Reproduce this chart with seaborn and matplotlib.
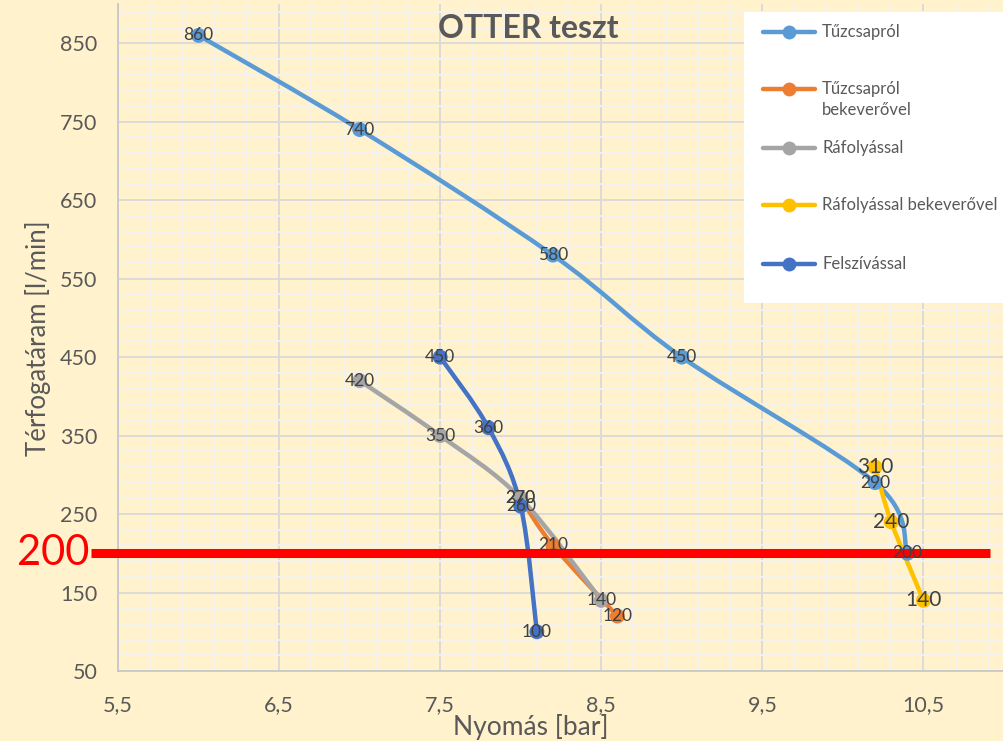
import matplotlib

matplotlib.use("Agg")
import matplotlib.pyplot as plt  # noqa: E402
import numpy as np  # noqa: E402
import pandas as pd  # noqa: E402
import seaborn as sns  # noqa: E402
from matplotlib.lines import Line2D  # noqa: E402
from matplotlib.patches import PathPatch, Rectangle  # noqa: E402
from matplotlib.path import Path  # noqa: E402
from matplotlib.ticker import FixedLocator, FuncFormatter  # noqa: E402

# ---- data ----
SERIES = [
    "Tűzcsapról",
    "Tűzcsapról bekeverővel",
    "Ráfolyással",
    "Ráfolyással bekeverővel",
    "Felszívással",
]
LEGEND_LABELS = [
    "Tűzcsapról",
    "Tűzcsapról\nbekeverővel",
    "Ráfolyással",
    "Ráfolyással bekeverővel",
    "Felszívással",
]
tuzcsap_x = [6.0, 7.0, 8.2, 9.0, 10.2, 10.4]
tuzcsap_y = [860, 740, 580, 450, 290, 200]
tuzcsap_bek_x = [8.0, 8.2, 8.6]
tuzcsap_bek_y = [270, 210, 120]
rafoly_x = [7.0, 7.5, 8.0, 8.5]
rafoly_y = [420, 350, 270, 140]
rafoly_bek_x = [10.2, 10.3, 10.5]
rafoly_bek_y = [310, 240, 140]
felsziv_x = [7.5, 7.8, 8.0, 8.1]
felsziv_y = [450, 360, 260, 100]
LIMIT = 200

X_TICKS = [5.5, 6.5, 7.5, 8.5, 9.5, 10.5]
Y_TICKS = [50, 150, 250, 350, 450, 550, 650, 750, 850]

COLORS = ["#5B9BD5", "#ED7D31", "#A5A5A5", "#FFC000", "#4472C4"]
BG = "#FFF2CC"
TXT = "#595959"
W, H = 1004, 741

xs_all = [tuzcsap_x, tuzcsap_bek_x, rafoly_x, rafoly_bek_x, felsziv_x]
ys_all = [tuzcsap_y, tuzcsap_bek_y, rafoly_y, rafoly_bek_y, felsziv_y]

df = pd.concat(
    [pd.DataFrame({"series": s, "p": x, "q": y}) for s, x, y in zip(SERIES, xs_all, ys_all)],
    ignore_index=True,
)


def smooth_path(xs, ys):
    """Catmull-Rom style Bezier through the points (like Excel's smoothed line)."""
    pts = np.column_stack([xs, ys]).astype(float)
    n = len(pts)
    verts, codes = [pts[0]], [Path.MOVETO]
    for i in range(n - 1):
        p0 = pts[i - 1] if i > 0 else pts[i]
        p1, p2 = pts[i], pts[i + 1]
        p3 = pts[i + 2] if i + 2 < n else pts[i + 1]
        verts += [p1 + (p2 - p0) / 6, p2 - (p3 - p1) / 6, p2]
        codes += [Path.CURVE4] * 3
    return Path(verts, codes)


sns.set_theme(style="whitegrid")
plt.rcParams["font.family"] = ["Lato", "DejaVu Sans"]

fig = plt.figure(figsize=(W / 100, H / 100), dpi=100, facecolor=BG)
ax = fig.add_axes([118 / W, 1 - 671 / H, 886 / W, 667 / H], facecolor=BG)

for i, s in enumerate(SERIES):
    ax.add_patch(PathPatch(smooth_path(xs_all[i], ys_all[i]), fc="none",
                           ec=COLORS[i], lw=3.2, zorder=2 + i * 0.1,
                           capstyle="round", joinstyle="round"))

sns.scatterplot(data=df, x="p", y="q", hue="series", hue_order=SERIES,
                palette=COLORS, s=115, edgecolor="none", legend=False,
                ax=ax, zorder=3)

ax.axhline(LIMIT, xmin=-0.03, xmax=0.984, color="#FF0000", lw=6.5,
           clip_on=False, zorder=5, solid_capstyle="butt")

for i, s in enumerate(SERIES):
    size = 15 if s == "Ráfolyással bekeverővel" else 12.5
    for x, y in zip(xs_all[i], ys_all[i]):
        ax.text(x, y, str(y), ha="center", va="center", fontsize=size,
                color="#404040", zorder=6)

ax.set_xlim(5.5, 11)
ax.set_ylim(50, 900)
ax.xaxis.set_major_locator(FixedLocator(X_TICKS))
ax.xaxis.set_minor_locator(FixedLocator(np.arange(5.5, 11.01, 0.2)))
ax.yaxis.set_major_locator(FixedLocator(Y_TICKS))
ax.yaxis.set_minor_locator(FixedLocator(np.arange(50, 901, 20)))
ax.xaxis.set_major_formatter(FuncFormatter(lambda v, _: f"{v:.1f}".replace(".", ",")))
ax.grid(which="major", color="#D9D9D9", lw=1.3, zorder=0)
ax.grid(which="minor", color="#F2F2F2", lw=1.3, zorder=0)
ax.set_axisbelow(True)
ax.tick_params(axis="x", which="both", length=0, pad=17, labelsize=15.5, labelcolor=TXT)
ax.tick_params(axis="y", which="both", length=0, pad=15, labelsize=15.5, labelcolor=TXT)
ax.set_xlabel("")
ax.set_ylabel("")
for side in ("top", "right"):
    ax.spines[side].set_visible(False)
for side in ("left", "bottom"):
    ax.spines[side].set_color("#C8C8C8")
    ax.spines[side].set_linewidth(1.3)

# titles and labels
fig.text(528 / W, 1 - 28 / H, "OTTER teszt", ha="center", va="center",
         fontsize=23, fontweight="bold", color=TXT)
fig.text(531 / W, 1 - 735 / H, "Nyomás [bar]", ha="center", va="baseline",
         fontsize=19, color=TXT)
fig.text(38 / W, 1 - 338 / H, "Térfogatáram [l/min]", ha="center", va="center",
         rotation=90, fontsize=18.5, color=TXT)
fig.text(53 / W, 1 - 553 / H, str(LIMIT), ha="center", va="center",
         fontsize=30, color="#FF0000")

# legend box, built by hand to get Excel's spacing
fig.add_artist(Rectangle((744 / W, 1 - 303 / H), 260 / W, 291 / H,
                         transform=fig.transFigure, fc="white", ec="none", zorder=1))
leg_rows = [32, 89, 148, 205, 264]
for i, lab in enumerate(LEGEND_LABELS):
    yy = 1 - leg_rows[i] / H
    fig.add_artist(Line2D([763 / W, 815 / W], [yy, yy], transform=fig.transFigure,
                          color=COLORS[i], lw=3.2, zorder=2))
    fig.add_artist(Line2D([789 / W], [yy], transform=fig.transFigure, marker="o",
                          markersize=10, color=COLORS[i], mec="none", zorder=2))
    if "\n" in lab:
        first, second = lab.split("\n")
        fig.text(822 / W, yy, first, ha="left", va="center", fontsize=12,
                 color=TXT, zorder=3)
        fig.text(822 / W, yy - 21 / H, second, ha="left", va="center", fontsize=12,
                 color=TXT, zorder=3)
    else:
        fig.text(822 / W, yy, lab, ha="left", va="center", fontsize=12,
                 color=TXT, zorder=3)

fig.savefig("out.png", dpi=100, facecolor=BG)
